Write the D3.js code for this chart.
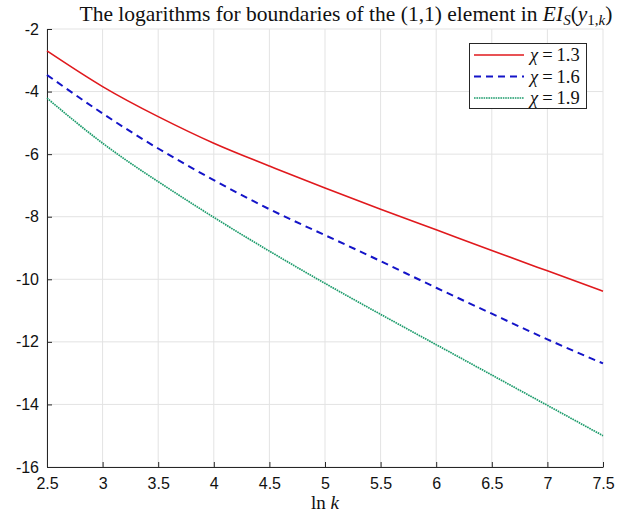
<!DOCTYPE html>
<html>
<head>
<meta charset="utf-8">
<script src="https://cdn.jsdelivr.net/npm/d3@7"></script>
<style>
  body { margin: 0; background: #fff; }
  svg { display: block; }
</style>
</head>
<body>
<svg id="chart"></svg>
<script>
// Data
const lnk = [2.5, 3, 3.5, 4, 4.5, 5, 5.5, 6, 6.5, 7, 7.5];
const chi13 = [-2.70, -3.84, -4.80, -5.65, -6.38, -7.08, -7.76, -8.42, -9.08, -9.73, -10.38];
const chi16 = [-3.47, -4.70, -5.82, -6.83, -7.76, -8.59, -9.42, -10.27, -11.10, -11.92, -12.69];
const chi19 = [-4.21, -5.65, -6.88, -8.02, -9.10, -10.13, -11.12, -12.09, -13.06, -14.03, -15.00];
const seriesNames = ["1.3", "1.6", "1.9"];
const xTicks = [2.5, 3, 3.5, 4, 4.5, 5, 5.5, 6, 6.5, 7, 7.5];
const yTicks = [-2, -4, -6, -8, -10, -12, -14, -16];

// Canvas size
const width = 634, height = 518;
const margin = {left: 47, right: 31, top: 29, bottom: 51};

const svg = d3.select("#chart")
              .attr("width", width)
              .attr("height", height);

const x = d3.scaleLinear().domain([2.5, 7.5]).range([margin.left, width - margin.right]);
const y = d3.scaleLinear().domain([-16, -2]).range([height - margin.bottom, margin.top]);

const axisColor = "#262626";
const sans = "'Liberation Sans', Arial, sans-serif";
const serif = "'Liberation Serif', 'Times New Roman', serif";

// Grid lines
svg.append("g")
   .selectAll("line")
   .data(xTicks)
   .join("line")
   .attr("x1", d => x(d)).attr("x2", d => x(d))
   .attr("y1", y(-16)).attr("y2", y(-2))
   .attr("stroke", "#e3e3e3")
   .attr("stroke-width", 1);

svg.append("g")
   .selectAll("line")
   .data(yTicks)
   .join("line")
   .attr("x1", x(2.5)).attr("x2", x(7.5))
   .attr("y1", d => y(d)).attr("y2", d => y(d))
   .attr("stroke", "#e3e3e3")
   .attr("stroke-width", 1);

// Axes (ticks point inward like MATLAB), plain hyphen for minus
const xAxis = svg.append("g")
                 .attr("transform", `translate(0,${y(-16)})`)
                 .call(d3.axisBottom(x).tickValues(xTicks).tickSizeInner(-5).tickSizeOuter(0).tickPadding(11)
                         .tickFormat(d => String(d)));
const yAxis = svg.append("g")
                 .attr("transform", `translate(${x(2.5)},0)`)
                 .call(d3.axisLeft(y).tickValues(yTicks).tickSizeInner(-5).tickSizeOuter(0).tickPadding(8)
                         .tickFormat(d => String(d)));

[xAxis, yAxis].forEach(a => {
    a.select(".domain").attr("stroke", axisColor).attr("stroke-width", 1);
    a.selectAll(".tick line").attr("stroke", axisColor);
    a.selectAll(".tick text")
     .attr("fill", "#111")
     .style("font-family", sans)
     .style("font-size", "16px");
});

// Curves
const series = [
    {values: chi13, color: "#e0191d", dash: null, w: 1.6},
    {values: chi16, color: "#1414c8", dash: "7,5", w: 2},
    {values: chi19, color: "#1d9c6c", dash: "1.6,0.8", w: 1.7}
];

const line = d3.line()
               .x((d, i) => x(lnk[i]))
               .y(d => y(d))
               .curve(d3.curveNatural);

svg.append("g")
   .selectAll("path")
   .data(series)
   .join("path")
   .attr("d", d => line(d.values))
   .attr("fill", "none")
   .attr("stroke", d => d.color)
   .attr("stroke-width", d => d.w)
   .attr("stroke-dasharray", d => d.dash);

// Title
const title = svg.append("text")
                 .attr("x", 346)
                 .attr("y", 21)
                 .attr("text-anchor", "middle")
                 .style("font-family", serif)
                 .style("font-size", "21.5px")
                 .attr("fill", "#111");
title.append("tspan").text("The logarithms for boundaries of the (1,1) element in ");
title.append("tspan").style("font-style", "italic").text("EI");
title.append("tspan").style("font-style", "italic").style("font-size", "15px").attr("dy", 4).text("S");
title.append("tspan").attr("dy", -4).text("(");
title.append("tspan").style("font-style", "italic").text("y");
title.append("tspan").style("font-size", "15px").attr("dy", 4).text("1,");
title.append("tspan").style("font-size", "15px").style("font-style", "italic").text("k");
title.append("tspan").attr("dy", -4).text(")");

// x label
const xlab = svg.append("text")
                .attr("x", x(5))
                .attr("y", 509)
                .attr("text-anchor", "middle")
                .style("font-family", serif)
                .style("font-size", "19px")
                .attr("fill", "#111");
xlab.append("tspan").text("ln ");
xlab.append("tspan").style("font-style", "italic").text("k");

// Legend
const legend = svg.append("g");
legend.append("rect")
      .attr("x", 469.5).attr("y", 43.5)
      .attr("width", 117).attr("height", 65)
      .attr("fill", "#fff")
      .attr("stroke", axisColor)
      .attr("stroke-width", 1);

const item = legend.selectAll("g.item")
                   .data(series)
                   .join("g")
                   .attr("class", "item")
                   .attr("transform", (d, i) => `translate(0,${55 + i * 21.5})`);
item.append("line")
    .attr("x1", 474).attr("x2", 524)
    .attr("y1", 0).attr("y2", 0)
    .attr("stroke", d => d.color)
    .attr("stroke-width", d => d.w)
    .attr("stroke-dasharray", d => d.dash);
const itemText = item.append("text")
                     .attr("x", 530)
                     .attr("y", 6)
                     .style("font-family", serif)
                     .style("font-size", "18.5px")
                     .attr("fill", "#111");
itemText.append("tspan").style("font-style", "italic").text("χ");
itemText.append("tspan").attr("dx", 4).text("=");
itemText.append("tspan").attr("dx", 4).text((d, i) => seriesNames[i]);
</script>
</body>
</html>
